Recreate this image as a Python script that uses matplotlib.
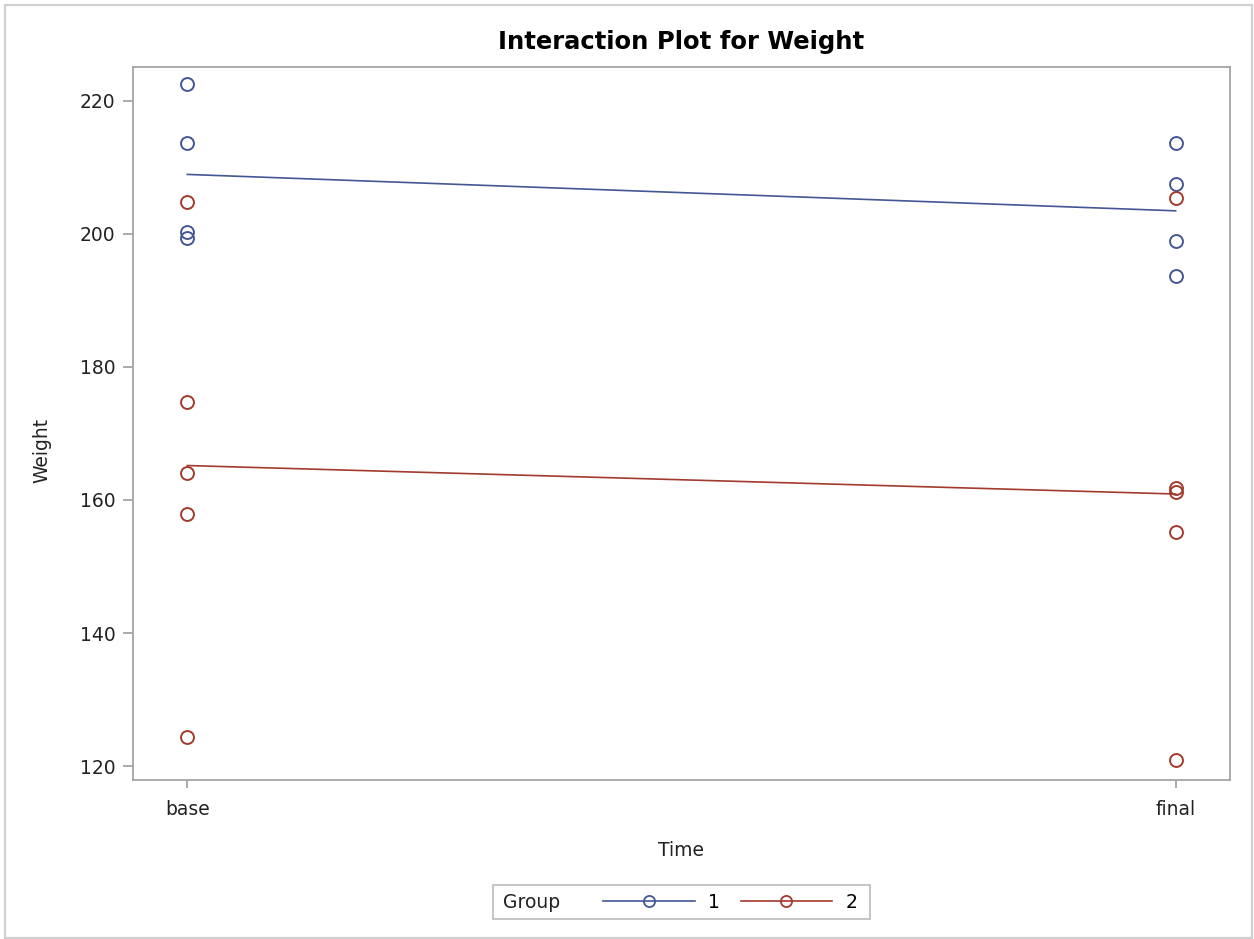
import numpy as np
import matplotlib.pyplot as plt
from matplotlib.patches import Rectangle

plt.rcParams['font.family'] = ['DejaVu Sans']

times = ['base', 'final']
groups = ['1', '2']

# weights, per group and time
g1_base = [222.5, 213.6, 200.3, 199.4]
g1_final = [213.7, 207.5, 199.0, 193.7]
g2_base = [204.8, 174.7, 164.1, 157.9, 124.4]
g2_final = [205.4, 161.8, 161.2, 155.2, 120.9]

yticks = [120, 140, 160, 180, 200, 220]

blue = '#445694'
red = '#A23A2E'
spine_col = '#A5A5A5'
txt_col = '#222222'

W, H = 1254, 939
fig = plt.figure(figsize=(W / 100, H / 100), dpi=100)

def px(x0, y0, x1, y1):
    return [x0 / W, 1 - y1 / H, (x1 - x0) / W, (y1 - y0) / H]

ax = fig.add_axes(px(133, 67, 1230, 780))

data = [(g1_base, g1_final, blue), (g2_base, g2_final, red)]
handles = []
for base, final, col in data:
    ax.plot([0] * len(base), base, 'o', mfc='none', mec=col, ms=9.3, mew=1.4)
    ax.plot([1] * len(final), final, 'o', mfc='none', mec=col, ms=9.3, mew=1.4)
    means = [np.mean(base), np.mean(final)]
    ax.plot([0, 1], means, '-', color=col, lw=1.2)
    h, = plt.plot([], [], '-', color=col, lw=1.2, marker='o', mfc='none', mec=col, ms=8, mew=1.3)
    handles.append(h)

ax.set_xlim(-0.055, 1.055)
ax.set_ylim(117.9, 225.1)
ax.set_xticks([0, 1])
ax.set_xticklabels(times)
ax.set_yticks(yticks)

for s in ax.spines.values():
    s.set_color(spine_col)
    s.set_linewidth(1.3)
ax.tick_params(axis='both', colors=spine_col, labelcolor=txt_col, labelsize=13.5, width=1.3)
ax.tick_params(axis='y', length=7.5, pad=5)
ax.tick_params(axis='x', length=5.5, pad=9)

fig.text(681 / W, 1 - 42 / H, 'Interaction Plot for Weight', ha='center', va='center',
         fontsize=17.5, fontweight='bold', color='black')
fig.text(681 / W, 1 - 851 / H, 'Time', ha='center', va='center', fontsize=13.5, color=txt_col)
fig.text(42 / W, 1 - 450 / H, 'Weight', ha='center', va='center', rotation=90,
         fontsize=13.5, color=txt_col)

# legend: frame + "Group" title on the left, entries on the right
fig.patches.append(Rectangle((493 / W, 1 - 919 / H), (870 - 493) / W, (919 - 885) / H,
                             transform=fig.transFigure, fill=False, ec='#BBBBBB', lw=1.2))
fig.text(503 / W, 1 - 903 / H, 'Group', ha='left', va='center', fontsize=13.5, color=txt_col)
fig.legend(handles, groups, ncol=2, loc='center left', bbox_to_anchor=(603 / W, 1 - 902 / H),
           frameon=False, fontsize=13.5, handlelength=4.9, handletextpad=0.7,
           columnspacing=1.1, borderpad=0, borderaxespad=0, numpoints=1)

# outer border of the graph
fig.patches.append(Rectangle((5 / W, 1 / H), (1252 - 5) / W, (H - 6) / H,
                             transform=fig.transFigure, fill=False, ec='#D0D0D0', lw=1.6))

fig.savefig('out.png', dpi=100)
